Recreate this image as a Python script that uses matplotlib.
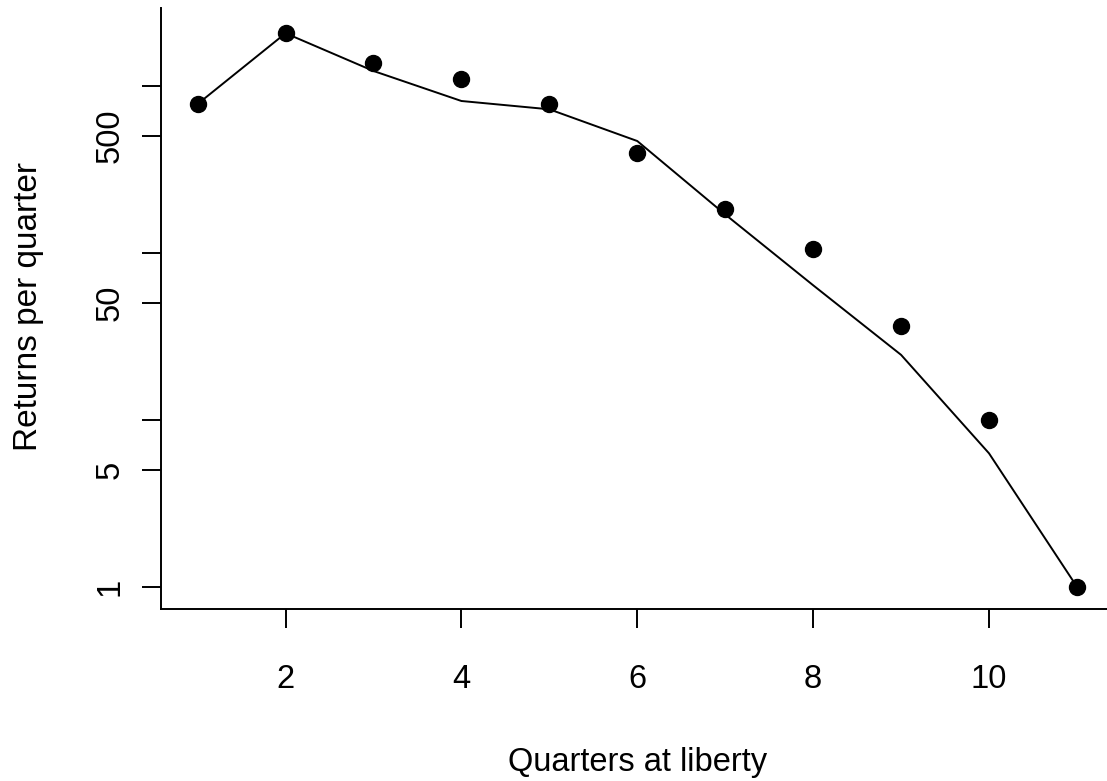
import numpy as np
import matplotlib
matplotlib.use("Agg")
import matplotlib.pyplot as plt

plt.rcParams['font.family'] = ['Liberation Sans', 'DejaVu Sans']

# quarters at liberty and observed / fitted tag returns
quarters = [1, 2, 3, 4, 5, 6, 7, 8, 9, 10, 11]
observed = [780, 2070, 1370, 1105, 777, 395, 183, 105, 36.5, 10, 1]
fitted = [780, 2070, 1230, 813, 725, 468, 170, 64, 24.5, 6.3, 1]

ytick_vals = [1, 5, 10, 50, 100, 500, 1000]
ytick_labels = ['1', '5', '', '50', '', '500', '']
xtick_vals = [2, 4, 6, 8, 10]

fig = plt.figure(figsize=(11.07, 7.81), dpi=100)
ax = fig.add_axes([0.1454, 0.2198, 0.860, 0.770])

ax.plot(quarters, fitted, color='black', linewidth=1.4)
ax.plot(quarters, observed, 'o', color='black', markersize=11.5)

ax.set_yscale('log')
ax.set_xlim(0.583, 11.41)
ax.set_ylim(0.732, 2934)

ax.set_yticks(ytick_vals)
ax.set_yticklabels(ytick_labels, rotation=90, va='center')
ax.yaxis.set_minor_locator(matplotlib.ticker.NullLocator())
ax.set_xticks(xtick_vals)
ax.set_xticklabels([str(v) for v in xtick_vals])

for side in ['top', 'right']:
    ax.spines[side].set_visible(False)
for side in ['left', 'bottom']:
    ax.spines[side].set_linewidth(1.4)

ax.tick_params(axis='x', length=13.7, width=1.4, pad=26, labelsize=23.5)
ax.tick_params(axis='y', length=13.7, width=1.4, pad=12, labelsize=23.5)

ax.set_xlabel('Quarters at liberty', fontsize=23.5)
ax.set_ylabel('Returns per quarter', fontsize=24)
ax.xaxis.set_label_coords(0.501, -0.229)
ax.yaxis.set_label_coords(-0.1229, 0.503)

fig.savefig('out.png', dpi=100)
